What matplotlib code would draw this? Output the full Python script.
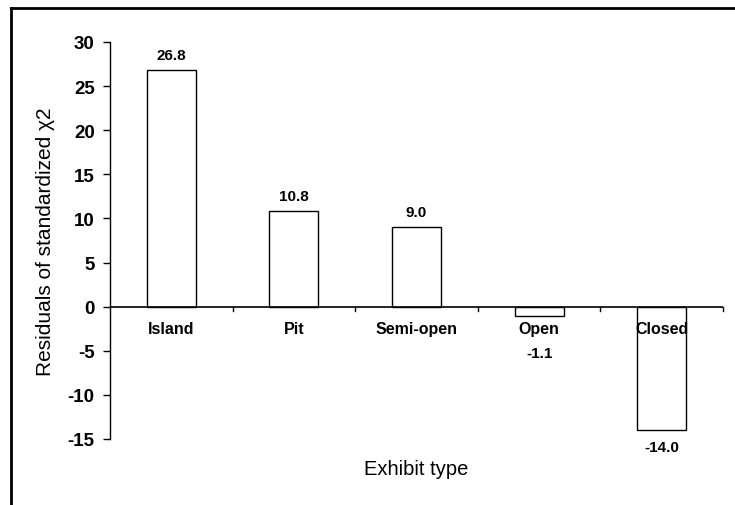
import matplotlib.pyplot as plt
from matplotlib.lines import Line2D
import numpy as np

plt.rcParams['font.family'] = ['Liberation Sans', 'DejaVu Sans']

categories = ['Island', 'Pit', 'Semi-open', 'Open', 'Closed']
residuals = [26.8, 10.8, 9.0, -1.1, -14.0]
yticks = [-15, -10, -5, 0, 5, 10, 15, 20, 25, 30]

fig = plt.figure(figsize=(7.35, 5.06), dpi=100)
ax = fig.add_axes([110 / 735, 1 - 440 / 506, 613 / 735, 397 / 506])

x = np.arange(len(categories))
bars = ax.bar(x, residuals, width=0.4, color='white', edgecolor='black', linewidth=1.0, zorder=2)

ax.set_xlim(-0.5, len(categories) - 0.5)
ax.set_ylim(-15, 30)
ax.set_yticks(yticks)
ax.set_yticklabels([str(v) for v in yticks], fontsize=13.5, fontweight='bold')
ax.tick_params(axis='y', direction='out', length=5, width=1, pad=6)

for s in ['top', 'right', 'bottom']:
    ax.spines[s].set_visible(False)
ax.spines['left'].set_linewidth(1)

# zero line with category boundary ticks
ax.axhline(0, color='black', linewidth=1.2, zorder=3)
ax.set_xticks([])
for b in np.arange(0.5, len(categories), 1.0):
    ax.plot([b, b], [0, -0.5], color='black', linewidth=1, zorder=3, clip_on=False)

# category labels just below zero line
for i, c in enumerate(categories):
    ax.annotate(c, (i, 0), xytext=(0, -10), textcoords='offset points',
                ha='center', va='top', fontsize=11.5, fontweight='bold')

# value labels
for i, v in enumerate(residuals):
    if v >= 0:
        ax.annotate(f'{v:.1f}', (i, v), xytext=(0, 6), textcoords='offset points',
                    ha='center', va='bottom', fontsize=11, fontweight='bold')
    elif v > -3:
        ax.annotate(f'{v:.1f}', (i, 0), xytext=(0, -28), textcoords='offset points',
                    ha='center', va='top', fontsize=11, fontweight='bold')
    else:
        ax.annotate(f'{v:.1f}', (i, v), xytext=(0, -7), textcoords='offset points',
                    ha='center', va='top', fontsize=11, fontweight='bold')

ax.set_ylabel('Residuals of standardized \u03c72', fontsize=15, labelpad=9)
fig.text((110 + 723) / 2 / 735, 1 - 470 / 506, 'Exhibit type', ha='center', va='center', fontsize=14.5)

# partial outer frame
fig.add_artist(Line2D([11 / 735, 1], [1 - 9 / 506, 1 - 9 / 506], color='black', linewidth=2))
fig.add_artist(Line2D([11 / 735, 11 / 735], [0, 1 - 9 / 506], color='black', linewidth=2))

plt.savefig('out.png', dpi=100)
